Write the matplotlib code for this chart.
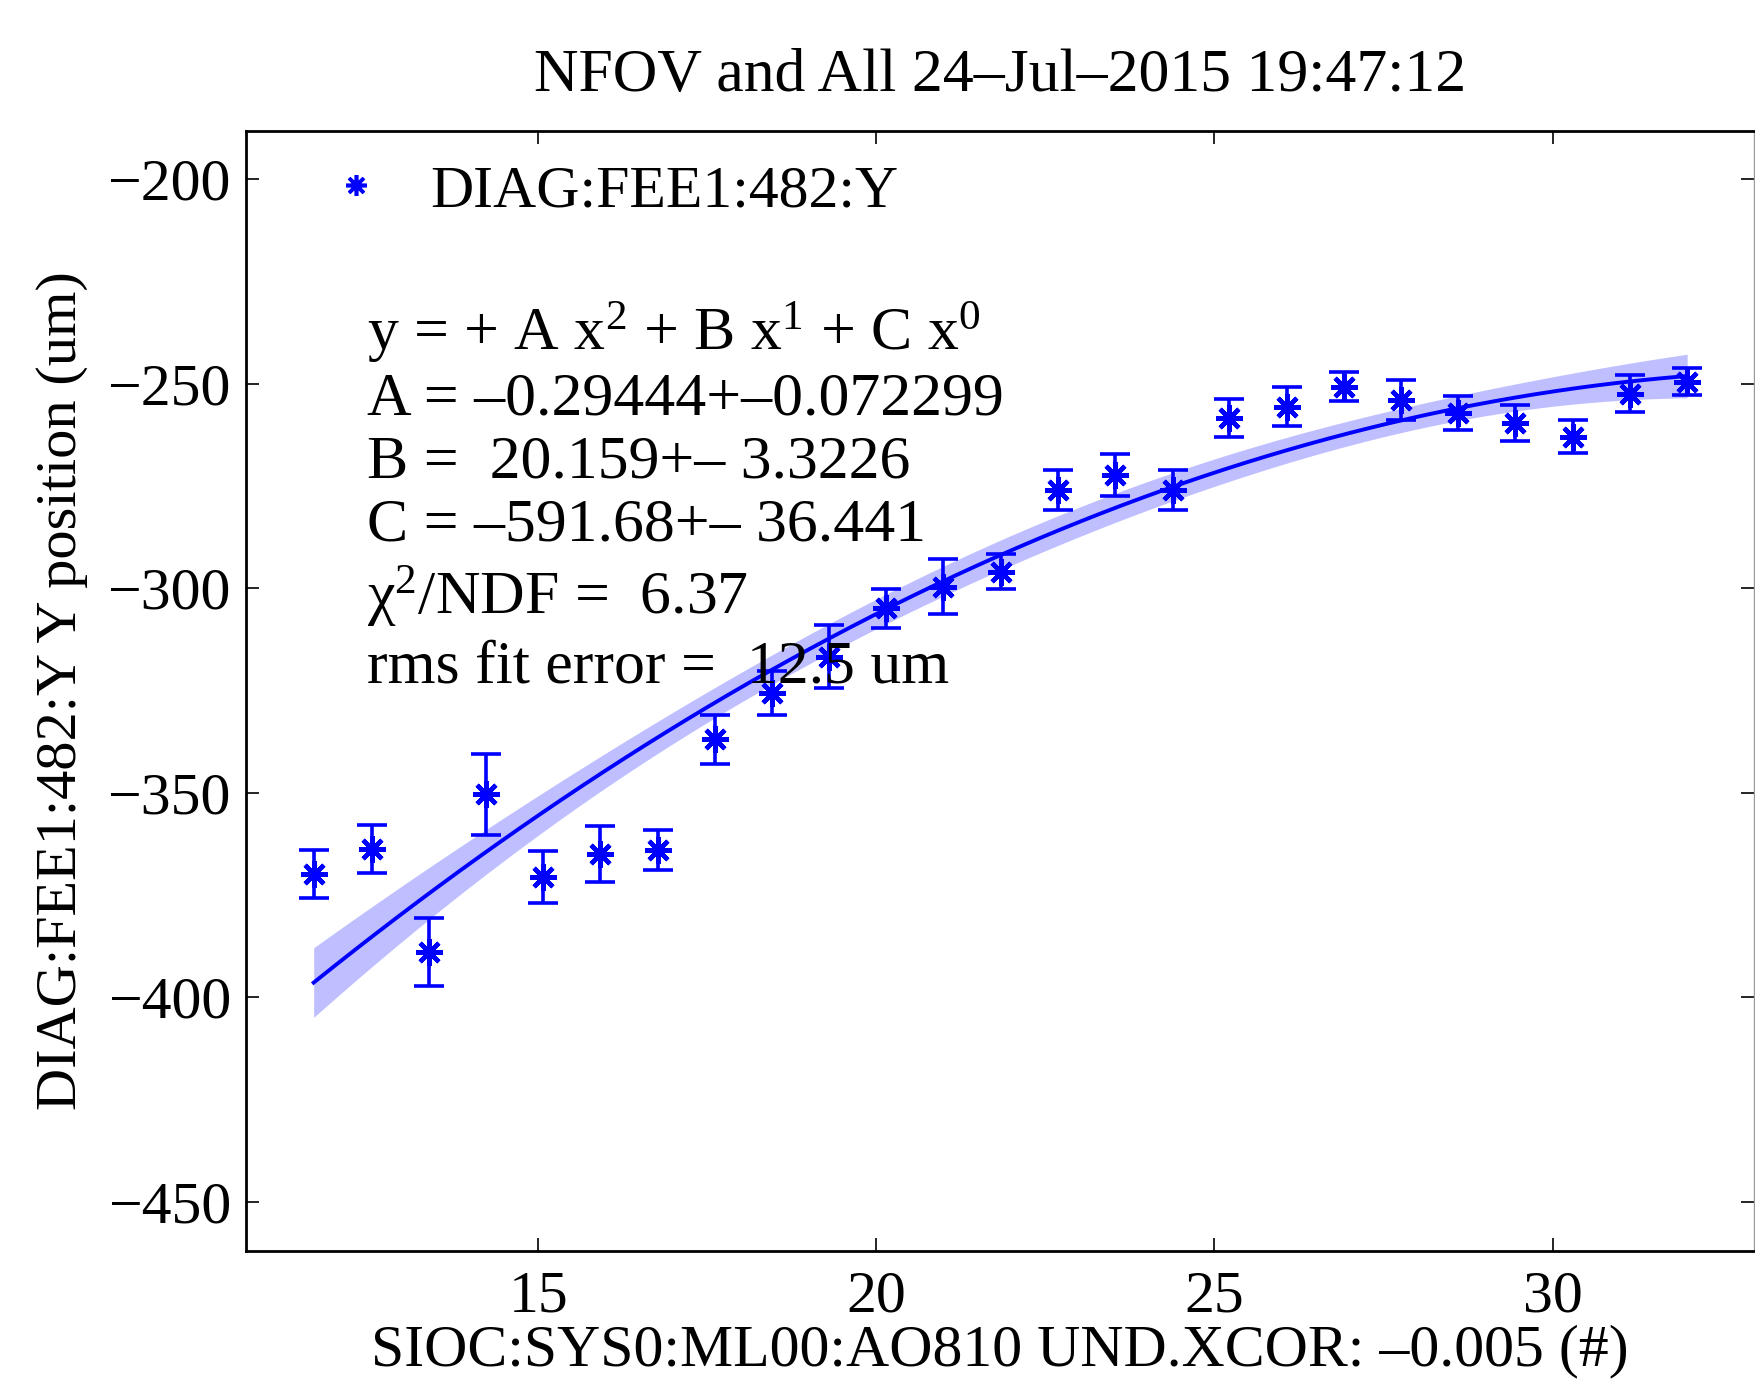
import numpy as np
import matplotlib.pyplot as plt
from matplotlib.lines import Line2D

plt.rcParams['font.family'] = ['Liberation Serif', 'DejaVu Serif']
plt.rcParams['mathtext.fontset'] = 'custom'
plt.rcParams['mathtext.rm'] = 'Liberation Serif'
plt.rcParams['mathtext.it'] = 'Liberation Serif:italic'
plt.rcParams['font.size'] = 43

# corrector setting vs. measured BPM position
xcor = [11.68, 12.54, 13.38, 14.23, 15.07, 15.92, 16.77, 17.61, 18.46, 19.30,
        20.15, 20.99, 21.84, 22.69, 23.53, 24.38, 25.22, 26.07, 26.91, 27.76,
        28.60, 29.45, 30.30, 31.14, 31.99]
ypos = [-369.8, -363.7, -389.0, -350.4, -370.6, -364.9, -364.0, -336.9, -325.6, -316.7,
        -304.9, -299.6, -295.9, -276.0, -272.3, -276.0, -258.4, -255.6, -250.7, -254.0,
        -257.2, -259.6, -262.9, -252.4, -249.5]
yerr = [5.8, 5.9, 8.3, 9.9, 6.3, 6.8, 4.8, 6.0, 5.4, 7.7,
        4.7, 6.7, 4.2, 4.8, 5.1, 4.8, 4.6, 4.7, 3.6, 4.9,
        4.1, 4.3, 4.0, 4.5, 3.3]

# quadratic fit results
A, dA = -0.29444, 0.072299
B, dB = 20.159, 3.3226
C, dC = -591.68, 36.441
chi2_ndf = 6.37
rms_err = 12.5

title = 'NFOV and All 24\u2013Jul\u20132015 19:47:12'
xlabel = 'SIOC:SYS0:ML00:AO810 UND.XCOR: \u20130.005 (#)'
ylabel = 'DIAG:FEE1:482:Y Y position (um)'
series = 'DIAG:FEE1:482:Y'


def num(v):
    return f'{v:g}'.replace('-', '\u2013')


xs = np.array(xcor)
ys = np.array(ypos)
es = np.array(yerr)

# parameter correlations from a weighted fit, scaled to the quoted errors
_, cov = np.polyfit(xs, ys, 2, w=1 / es, cov=True)
sd = np.sqrt(np.diag(cov))
sig = np.array([dA, dB, dC])
cov_q = cov / np.outer(sd, sd) * np.outer(sig, sig)

xf = np.linspace(xs.min(), xs.max(), 200)
yf = A * xf**2 + B * xf + C
V = np.vstack([xf**2, xf, np.ones_like(xf)])
band = np.sqrt(np.einsum('in,ij,jn->n', V, cov_q, V))

fig = plt.figure(figsize=(17.55, 13.8), dpi=100)
ax = fig.add_axes([0.1402, 0.0935, 0.8593, 0.8116])

ax.fill_between(xf, yf - band, yf + band, color='blue', alpha=0.25, lw=0)
ax.plot(xf, yf, color='blue', lw=2.8)
ax.errorbar(xcor, ypos, yerr=yerr, fmt='none', ecolor='blue',
            elinewidth=2.6, capsize=11, capthick=2.6)
ax.plot(xcor, ypos, ls='none', marker=(8, 2, 0), ms=19, mew=3.2, color='blue')

h = Line2D([], [], ls='none', marker=(8, 2, 0), ms=15, mew=2.6, color='blue')
ax.legend([h], [series], loc='upper left', bbox_to_anchor=(0.053, 0.97),
          frameon=False, handlelength=1, handletextpad=0.75,
          borderaxespad=0, borderpad=0)

lines = [
    'y = + A x$^2$ + B x$^1$ + C x$^0$',
    f'A = {num(A)}+\u2013{num(dA)}',
    f'B =  {num(B)}+\u2013 {num(dB)}',
    f'C = {num(C)}+\u2013 {num(dC)}',
    f'\u03c7$^2$/NDF =  {chi2_ndf}',
    f'rms fit error =  {rms_err} um',
]
text_y = [-241.8, -257.4, -273.0, -288.3, -306.4, -323.1]
for s, ty in zip(lines, text_y):
    ax.text(12.47, ty, s, va='baseline', ha='left', fontsize=44.5)

ax.set_xlim(10.68, 32.98)
ax.set_ylim(-462, -188.2)
ax.set_xticks([15, 20, 25, 30])
ax.set_yticks([-450, -400, -350, -300, -250, -200])
ax.tick_params(direction='in', length=9.5, width=1.2, top=True, right=True)
ax.tick_params(axis='x', pad=14)
ax.tick_params(axis='y', pad=11)
for side in ['left', 'bottom', 'top']:
    ax.spines[side].set_linewidth(2)
ax.spines['right'].set_linewidth(1)
ax.spines['right'].set_color('0.6')

ax.set_title(title, pad=29, fontsize=44.5)
ax.set_xlabel(xlabel, labelpad=0)
ax.set_ylabel(ylabel, labelpad=14, fontsize=42)

fig.savefig('out.png', dpi=100)
